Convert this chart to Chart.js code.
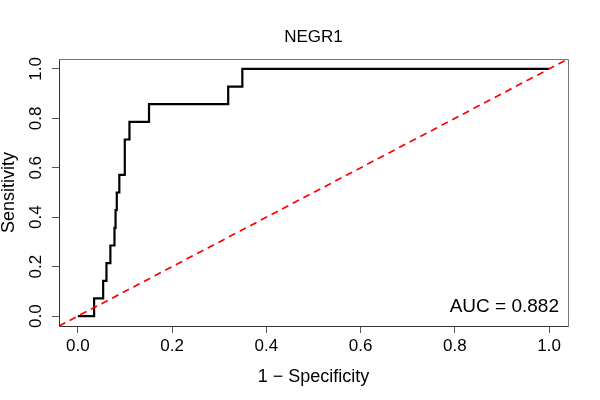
<!DOCTYPE html>
<html><head><meta charset="utf-8">
<script src="https://cdn.jsdelivr.net/npm/chart.js@4"></script>
<style>html,body{margin:0;padding:0;background:#fff}canvas{display:block}</style>
</head><body>
<canvas id="c" width="600" height="400"></canvas>
<script>
// ROC curve vertices (1 - specificity, sensitivity)
const fpr  = [0, 0.0345, 0.0537, 0.0607, 0.0690, 0.0777, 0.0800, 0.0826, 0.0880, 0.0996, 0.1095, 0.1510, 0.3190, 0.3490, 1.0];
const sens = [0, 0.0714, 0.1429, 0.2143, 0.2857, 0.3571, 0.4286, 0.5000, 0.5714, 0.7143, 0.7857, 0.8571, 0.9286, 1.0000, 1.0];
// reference (chance) line
const diagX = [-0.04, 1.04];
const diagY = [-0.04, 1.04];
const tickVals = [0, 0.2, 0.4, 0.6, 0.8, 1.0];
const tickLabels = ['0.0', '0.2', '0.4', '0.6', '0.8', '1.0'];
const titleText = 'NEGR1';
const xTitle = '1 \u2212 Specificity';
const yTitle = 'Sensitivity';
const aucText = 'AUC = 0.882';

Chart.defaults.font.family = '"Liberation Sans", Arial, Helvetica, sans-serif';
Chart.defaults.color = '#000';

const boxPlugin = {
  id: 'boxAuc',
  afterDatasetsDraw(chart) {
    const ctx = chart.ctx, a = chart.chartArea;
    ctx.save();
    ctx.lineWidth = 1;
    ctx.strokeStyle = '#777';
    ctx.beginPath();
    ctx.moveTo(a.left + 0.5, a.top + 0.5);
    ctx.lineTo(a.right + 0.5, a.top + 0.5);
    ctx.lineTo(a.right + 0.5, a.bottom + 0.5);
    ctx.stroke();
    ctx.strokeStyle = '#333';
    ctx.beginPath();
    ctx.moveTo(a.left + 0.5, a.top + 0.5);
    ctx.lineTo(a.left + 0.5, a.bottom + 0.5);
    ctx.lineTo(a.right + 0.5, a.bottom + 0.5);
    ctx.stroke();
    ctx.fillStyle = '#000';
    ctx.font = '19px "Liberation Sans", Arial, sans-serif';
    ctx.textAlign = 'right';
    ctx.textBaseline = 'alphabetic';
    ctx.fillText(aucText, a.right - 9, a.bottom - 14.3);
    ctx.restore();
  }
};

const setTicks = s => { s.ticks = tickVals.map(v => ({ value: v })); };
const fmt = v => tickLabels[tickVals.indexOf(Math.round(v * 10) / 10)] ?? '';

new Chart(document.getElementById('c'), {
  type: 'line',
  data: {
    datasets: [
      {
        data: diagX.map((x, i) => ({ x, y: diagY[i] })),
        borderColor: '#ff0000', borderWidth: 1.7, borderDash: [7, 5],
        pointRadius: 0, fill: false, tension: 0
      },
      {
        data: fpr.map((x, i) => ({ x, y: sens[i] })),
        borderColor: '#000', borderWidth: 2.2, stepped: 'before',
        pointRadius: 0, fill: false
      }
    ]
  },
  options: {
    responsive: false, animation: false,
    layout: { padding: { left: 0, right: 32, top: 0, bottom: 0 } },
    plugins: {
      legend: { display: false }, tooltip: { enabled: false },
      title: { display: true, fullSize: false, text: titleText, color: '#000',
        font: { size: 17, weight: 'normal' }, padding: { top: 27, bottom: 11.6 } }
    },
    scales: {
      x: {
        type: 'linear', min: -0.04, max: 1.04,
        afterBuildTicks: setTicks,
        afterFit: s => { s.height = 74; },
        ticks: { callback: fmt, font: { size: 17 }, padding: 3, maxRotation: 0, autoSkip: false, color: '#000' },
        grid: { display: true, drawOnChartArea: false, drawTicks: true, tickLength: 7, color: '#555', lineWidth: 1 },
        border: { display: false },
        title: { display: true, text: xTitle, color: '#000', font: { size: 18 }, padding: { top: 0, bottom: 12.2 } }
      },
      y: {
        type: 'linear', min: -0.04, max: 1.04,
        afterBuildTicks: setTicks,
        afterFit: s => { s.width = 59; },
        ticks: { callback: fmt, font: { size: 17 }, padding: 4, minRotation: 90, maxRotation: 90, crossAlign: 'center', autoSkip: false, color: '#000' },
        grid: { display: true, drawOnChartArea: false, drawTicks: true, tickLength: 7, color: '#555', lineWidth: 1 },
        border: { display: false },
        title: { display: true, text: yTitle, color: '#000', font: { size: 18, lineHeight: 1 }, padding: { top: 0, bottom: 0 } }
      }
    }
  },
  plugins: [boxPlugin]
});
</script>
</body></html>
